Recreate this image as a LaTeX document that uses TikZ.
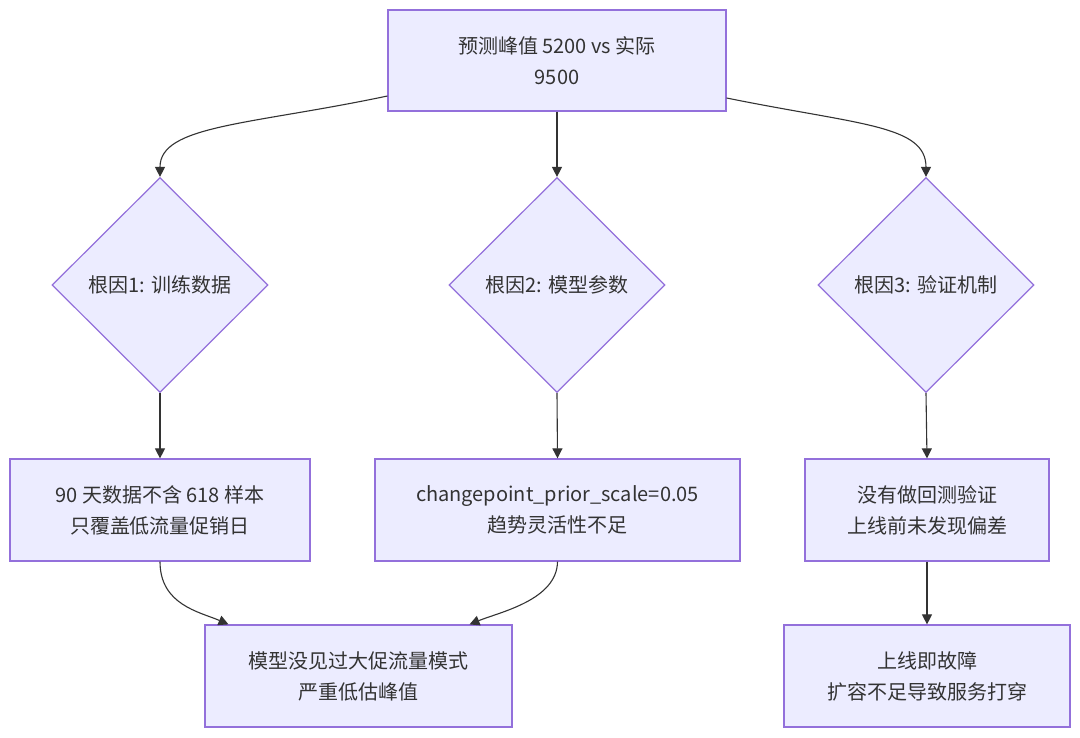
\documentclass[tikz,border=0pt]{standalone}
\usepackage{fontspec}
\setmainfont{Noto Sans CJK SC}
\usetikzlibrary{arrows.meta,shapes.geometric}
\definecolor{mfill}{HTML}{ECECFF}
\definecolor{mstroke}{HTML}{9370DB}
\definecolor{mtext}{HTML}{333333}
\definecolor{medge}{HTML}{333333}
\tikzset{
  box/.style={draw=mstroke, fill=mfill, line width=1.2pt, rectangle, align=center, text=mtext,
    font=\fontsize{20pt}{31pt}\selectfont, inner sep=0pt},
  dia/.style={draw=mstroke, fill=mfill, line width=1.2pt, diamond, aspect=1, align=center, text=mtext,
    font=\fontsize{20pt}{31pt}\selectfont, inner sep=0pt, minimum width=216pt, minimum height=215pt},
  edge/.style={draw=medge, line width=1.1pt, -{Triangle[length=10pt,width=10pt]}},
}
\begin{document}
\begin{tikzpicture}[x=1pt,y=-1pt]
\useasboundingbox (0,0) rectangle (1080,737);
\fill[white] (0,0) rectangle (1080,737);
\node[box, minimum width=338pt, minimum height=101pt] (top) at (557,60.5) {预测峰值 5200 vs 实际\\9500};
\node[dia] (d1) at (160,285) {根因1: 训练数据};
\node[dia] (d2) at (557,285) {根因2: 模型参数};
\node[dia] (d3) at (926,285) {根因3: 验证机制};
\node[box, minimum width=300pt, minimum height=102pt] (a) at (160,510) {90 天数据不含 618 样本\\只覆盖低流量促销日};
\node[box, minimum width=365pt, minimum height=102pt] (b) at (557.5,510) {changepoint\_prior\_scale=0.05\\趋势灵活性不足};
\node[box, minimum width=244pt, minimum height=102pt] (c) at (927,510) {没有做回测验证\\上线前未发现偏差};
\node[box, minimum width=307pt, minimum height=102pt] (d) at (358.5,676) {模型没见过大促流量模式\\严重低估峰值};
\node[box, minimum width=286pt, minimum height=102pt] (e) at (927,676) {上线即故障\\扩容不足导致服务打穿};
\draw[edge] ([yshift=-35.5pt]top.west) .. controls (250,125) and (160,125) .. (d1.north);
\draw[edge] (top.south) -- (d2.north);
\draw[edge] ([yshift=-37.5pt]top.east) .. controls (860,125) and (926,125) .. (d3.north);
\draw[edge] (d1.south) -- (a.north);
\draw[edge] (d2.south) -- (b.north);
\draw[edge] (d3.south) -- (c.north);
\draw[edge] (a.south) .. controls (160,605) and (200,612) .. ([xshift=-130pt]d.north);
\draw[edge] (b.south) .. controls (557,600) and (500,612) .. ([xshift=111pt]d.north);
\draw[edge] (c.south) -- (e.north);
\end{tikzpicture}
\end{document}
